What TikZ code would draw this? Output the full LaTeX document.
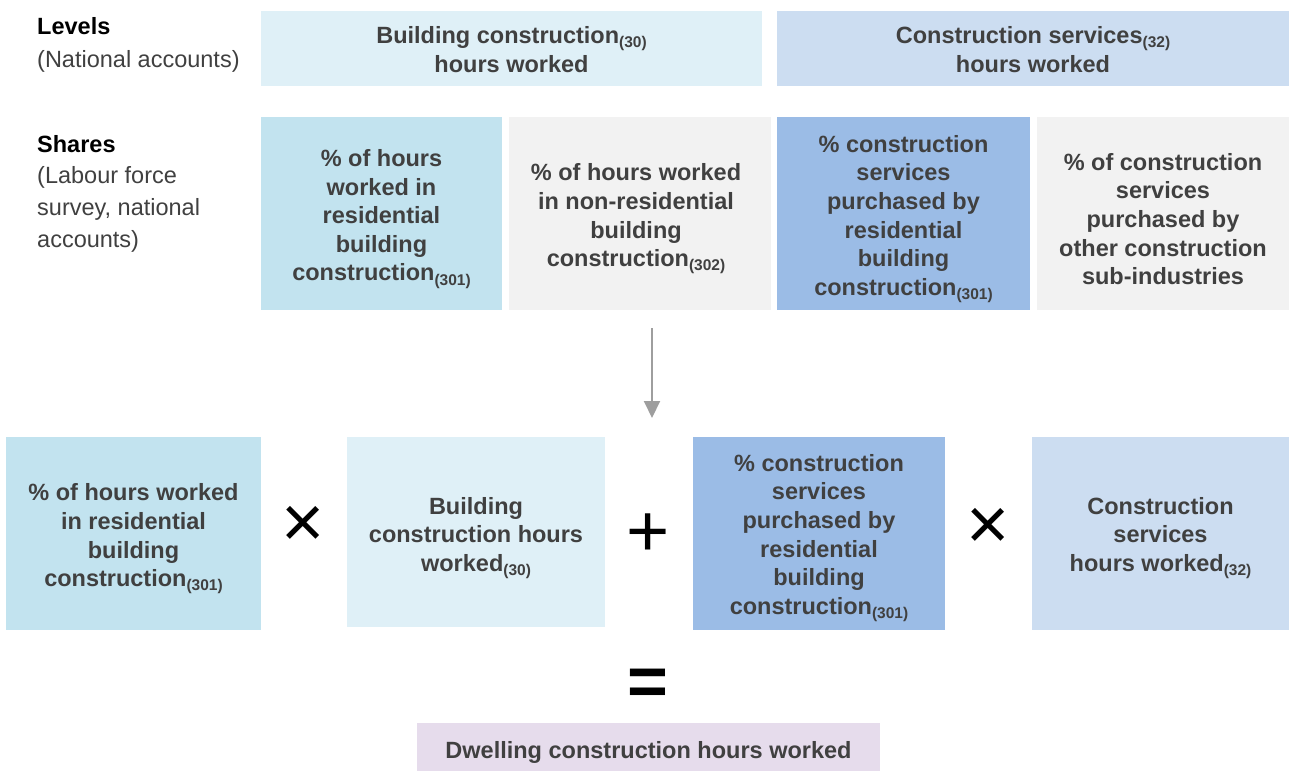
\documentclass[tikz,border=0pt]{standalone}
\usepackage{fontspec}
\setmainfont{Liberation Sans}
\usetikzlibrary{arrows.meta}
\definecolor{lvlA}{HTML}{DFF0F7}
\definecolor{lvlB}{HTML}{CCDDF1}
\definecolor{shA}{HTML}{C2E3EF}
\definecolor{shG}{HTML}{F2F2F2}
\definecolor{shC}{HTML}{9BBCE6}
\definecolor{resP}{HTML}{E6DCEC}
\definecolor{txt}{HTML}{404040}
\newcommand{\sbx}[1]{\raisebox{-0.35ex}{\fontsize{15.5}{15.5}\selectfont(#1)}}
\tikzset{
  boxnode/.style={rectangle, inner sep=0pt, align=center, text=txt,
    font=\fontsize{23.5}{28.6}\selectfont\bfseries},
  headtxt/.style={anchor=west, inner sep=0pt, text=black, font=\fontsize{23.5}{23.5}\selectfont\bfseries},
  subtxt/.style={anchor=west, inner sep=0pt, text=txt, align=left, font=\fontsize{23.5}{32}\selectfont},
  opnode/.style={inner sep=0pt, text=black, font=\fontsize{74}{74}\selectfont},
  arr/.style={draw=black!38, line width=2pt, -{Triangle[length=17pt,width=16pt]}}
}
\begin{document}
\begin{tikzpicture}[x=1pt,y=-1pt]
\useasboundingbox (0,0) rectangle (1289,771);
% levels row
\fill[lvlA] (261,11) rectangle (762,86);
\node[boxnode] (lvl30) at (511.5,49.5) {Building construction\sbx{30}\\hours worked};
\fill[lvlB] (777,11) rectangle (1289,86);
\node[boxnode] (lvl32) at (1033,49.5) {Construction services\sbx{32}\\hours worked};
% labels
\node[headtxt] (levels) at (37,26) {Levels};
\node[subtxt] (levelssrc) at (37,61) {(National accounts)};
\node[headtxt] (shares) at (37,144) {Shares};
\node[subtxt, anchor=north west] (sharessrc) at (37,166) {(Labour force\\survey, national\\accounts)};
% shares row
\fill[shA] (261,117) rectangle (502,310);
\node[boxnode] (s1) at (381.5,219) {\% of hours\\worked in\\residential\\building\\construction\sbx{301}};
\fill[shG] (509,117) rectangle (771,310);
\node[boxnode] (s2) at (636,219) {\% of hours worked\\in non-residential\\building\\construction\sbx{302}};
\fill[shC] (777,117) rectangle (1030,310);
\node[boxnode] (s3) at (903.5,219) {\% construction\\services\\purchased by\\residential\\building\\construction\sbx{301}};
\fill[shG] (1037,117) rectangle (1289,310);
\node[boxnode] (s4) at (1163,219) {\% of construction\\services\\purchased by\\other construction\\sub-industries};
% arrow
\coordinate (arrtop) at (652,328);
\coordinate (arrbot) at (652,418);
\draw[arr] (arrtop) -- (arrbot);
% bottom row
\fill[shA] (6,437) rectangle (261,630);
\node[boxnode] (b1) at (133.5,539) {\% of hours worked\\in residential\\building\\construction\sbx{301}};
\fill[lvlA] (347,437) rectangle (605,627);
\node[boxnode] (b2) at (476,538) {Building\\construction hours\\worked\sbx{30}};
\fill[shC] (693,437) rectangle (945,630);
\node[boxnode] (b3) at (819,538) {\% construction\\services\\purchased by\\residential\\building\\construction\sbx{301}};
\fill[lvlB] (1032,437) rectangle (1289,630);
\node[boxnode] (b4) at (1160.5,538) {Construction\\services\\hours worked\sbx{32}};
% operators
\node[opnode] (op1) at (303,527) {×};
\node[opnode] (op2) at (648,535) {+};
\node[opnode] (op3) at (988,529) {×};
\node[opnode, font=\fontsize{70}{70}\selectfont\bfseries] (op4) at (648,687) {=};
% result
\fill[resP] (417,723) rectangle (880,771);
\node[boxnode] (res) at (648.5,752) {Dwelling construction hours worked};
\end{tikzpicture}
\end{document}
